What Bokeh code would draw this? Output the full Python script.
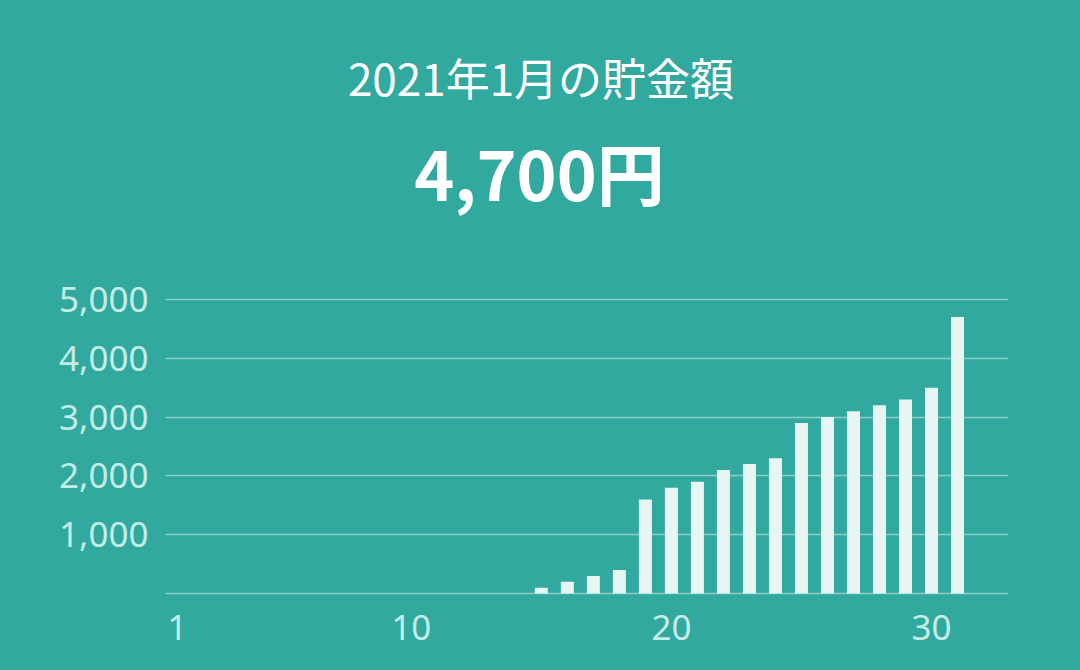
from bokeh.plotting import figure
from bokeh.models import Range1d, FixedTicker, Label, NumeralTickFormatter
from bokeh.embed import file_html
from bokeh.resources import INLINE

# ---- data ----
days = list(range(1, 32))
savings = [0, 0, 0, 0, 0, 0, 0, 0, 0, 0, 0, 0, 0, 0,
           100, 200, 300, 400, 1600, 1800, 1900, 2100, 2200, 2300,
           2900, 3000, 3100, 3200, 3300, 3500, 4700]
x_ticks = [1, 10, 20, 30]
y_ticks = [1000, 2000, 3000, 4000, 5000]
grid_ticks = [0, 1000, 2000, 3000, 4000, 5000]
title_text = "2021年1月の貯金額"
total_text = "4,700円"

BG = "#31A99F"
BAR = "#E8F6F3"
LABEL = "#C4ECE6"
TICK_FONT = "Noto Sans"
CJK_FONT = "Noto Sans CJK JP"

W, H = 1080, 670
# the frame reaches the top of the canvas so the headline fits inside it;
# the value axis stops at 5,000 (ticks/grid fixed), the rest is headroom
p = figure(width=W, height=H, output_backend="svg", toolbar_location=None,
           title=None,
           x_range=Range1d(0.55, 32.96), y_range=Range1d(-50, 10080),
           min_border_left=165, min_border_right=72,
           min_border_top=0, min_border_bottom=74)
p.styles = {"background-color": BG}
p.background_fill_color = BG
p.border_fill_color = BG
p.outline_line_color = None

p.vbar(x=days, top=savings, bottom=0, width=0.5, fill_color=BAR, line_color=None)

# grid
p.xgrid.visible = False
p.ygrid.ticker = FixedTicker(ticks=grid_ticks)
p.ygrid.grid_line_color = "white"
p.ygrid.grid_line_alpha = 0.45
p.ygrid.grid_line_width = 1.5

# axes
for ax in (p.xaxis[0], p.yaxis[0]):
    ax.axis_line_color = None
    ax.major_tick_line_color = None
    ax.minor_tick_line_color = None
    ax.major_tick_in = 0
    ax.major_tick_out = 0
    ax.major_label_text_color = LABEL
    ax.major_label_text_font = TICK_FONT
    ax.major_label_text_font_size = "35px"

p.xaxis.ticker = FixedTicker(ticks=x_ticks)
p.xaxis.major_label_standoff = 18
p.yaxis.ticker = FixedTicker(ticks=y_ticks)
p.yaxis.formatter = NumeralTickFormatter(format="0,0")
p.yaxis.major_label_standoff = 17

# headline texts (screen units from the frame's bottom-left corner)
p.add_layout(Label(x=375.5, y=520, x_units="screen", y_units="screen",
                   text=title_text, text_align="center", text_baseline="alphabetic",
                   text_color="white", text_font=CJK_FONT,
                   text_font_size="44px"))
p.add_layout(Label(x=374, y=425, x_units="screen", y_units="screen",
                   text=total_text, text_align="center", text_baseline="alphabetic",
                   text_color="white", text_font=CJK_FONT,
                   text_font_size="68px", text_font_style="bold"))

open("out.html", "w").write(file_html(p, INLINE))
